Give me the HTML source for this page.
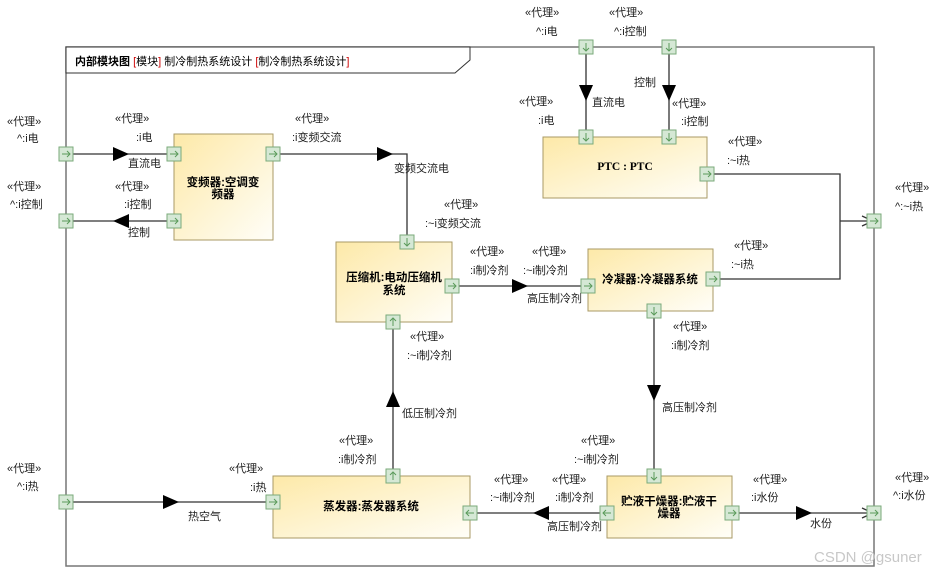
<!DOCTYPE html>
<html><head><meta charset="utf-8"><style>
html,body{margin:0;padding:0;background:#fff;}
svg{display:block;}
text{font-family:"Liberation Sans","Noto Sans CJK SC",sans-serif;font-size:11px;fill:#222;}
.b{font-weight:bold;font-size:11.5px;fill:#000;}
.s{fill:#333;}
</style></head><body>
<svg width="937" height="573" viewBox="0 0 937 573" xmlns="http://www.w3.org/2000/svg">
<defs>
<linearGradient id="g" x1="0" y1="0" x2="1" y2="1">
<stop offset="0" stop-color="#fde9a8"/><stop offset="1" stop-color="#fffef8"/></linearGradient>
<g id="pr"><rect x="-7" y="-7" width="14" height="14" fill="#d5e8d5" stroke="#7aaa7a"/><path d="M-4 0H4M1-3L4 0L1 3" fill="none" stroke="#5a9a5a"/></g>
<g id="pl"><rect x="-7" y="-7" width="14" height="14" fill="#d5e8d5" stroke="#7aaa7a"/><path d="M4 0H-4M-1-3L-4 0L-1 3" fill="none" stroke="#5a9a5a"/></g>
<g id="pd"><rect x="-7" y="-7" width="14" height="14" fill="#d5e8d5" stroke="#7aaa7a"/><path d="M0-4V4M-3 1L0 4L3 1" fill="none" stroke="#5a9a5a"/></g>
<g id="pu"><rect x="-7" y="-7" width="14" height="14" fill="#d5e8d5" stroke="#7aaa7a"/><path d="M0 4V-4M-3-1L0-4L3-1" fill="none" stroke="#5a9a5a"/></g>
</defs>
<rect x="66" y="47" width="808" height="519" fill="none" stroke="#777" stroke-width="1.5"/>
<path d="M66 47H470V60L455 73H66Z" fill="#fff" stroke="#333"/>
<text x="75" y="65" class="b" style="font-size:11px">内部模块图 <tspan style="font-weight:normal;fill:#c00">[</tspan><tspan style="font-weight:normal">模块</tspan><tspan style="font-weight:normal;fill:#c00">]</tspan><tspan style="font-weight:normal"> 制冷制热系统设计 </tspan><tspan style="font-weight:normal;fill:#c00">[</tspan><tspan style="font-weight:normal">制冷制热系统设计</tspan><tspan style="font-weight:normal;fill:#c00">]</tspan></text>

<rect x="174" y="134" width="99" height="106" fill="url(#g)" stroke="#a99a66"/>
<text x="223" y="186" class="b" text-anchor="middle">变频器:空调变</text><text x="223" y="198" class="b" text-anchor="middle">频器</text>
<rect x="336" y="242" width="116" height="80" fill="url(#g)" stroke="#a99a66"/>
<text x="394" y="281" class="b" text-anchor="middle">压缩机:电动压缩机</text><text x="394" y="294" class="b" text-anchor="middle">系统</text>
<rect x="543" y="137" width="164" height="61" fill="url(#g)" stroke="#a99a66"/>
<text x="625" y="170" class="b" text-anchor="middle" style="font-family:'Liberation Serif',serif">PTC : PTC</text>
<rect x="588" y="249" width="125" height="62" fill="url(#g)" stroke="#a99a66"/>
<text x="650" y="283" class="b" text-anchor="middle">冷凝器:冷凝器系统</text>
<rect x="273" y="476" width="197" height="62" fill="url(#g)" stroke="#a99a66"/>
<text x="371" y="510" class="b" text-anchor="middle">蒸发器:蒸发器系统</text>
<rect x="607" y="476" width="125" height="62" fill="url(#g)" stroke="#a99a66"/>
<text x="669" y="505" class="b" text-anchor="middle">贮液干燥器:贮液干</text><text x="669" y="517" class="b" text-anchor="middle">燥器</text>

<g stroke="#333" stroke-width="1.3" fill="none">
<path d="M66 154H174"/><path d="M66 221H174"/>
<path d="M273 154H407V242"/>
<path d="M452 286H588"/>
<path d="M707 174H840V279H713"/><path d="M840 221H874"/>
<path d="M586 47V137"/><path d="M669 47V137"/>
<path d="M654 311V476"/>
<path d="M607 513H470"/>
<path d="M393 476V322"/>
<path d="M66 502H273"/>
<path d="M732 513H874"/>
<path d="M862 216L873 221L862 226"/><path d="M862 508L873 513L862 518"/>
</g>
<g fill="#000">
<path d="M113 147L129 154L113 161Z"/>
<path d="M129 214L113 221L129 228Z"/>
<path d="M377 147L393 154L377 161Z"/>
<path d="M512 279L528 286L512 293Z"/>
<path d="M579 85L586 101L593 85Z"/><path d="M662 85L669 101L676 85Z"/>
<path d="M647 385L654 401L661 385Z"/>
<path d="M549 506L533 513L549 520Z"/>
<path d="M386 407L393 391L400 407Z"/>
<path d="M163 495L179 502L163 509Z"/>
<path d="M796 506L812 513L796 520Z"/>
</g>

<use href="#pr" x="66" y="154"/><use href="#pr" x="66" y="221"/><use href="#pr" x="66" y="502"/>
<use href="#pr" x="874" y="221"/><use href="#pr" x="874" y="513"/>
<use href="#pd" x="586" y="47"/><use href="#pd" x="669" y="47"/>
<use href="#pr" x="174" y="154"/><use href="#pr" x="174" y="221"/><use href="#pr" x="273" y="154"/>
<use href="#pd" x="407" y="242"/><use href="#pr" x="452" y="286"/><use href="#pu" x="393" y="322"/>
<use href="#pd" x="586" y="137"/><use href="#pd" x="669" y="137"/><use href="#pr" x="707" y="174"/>
<use href="#pr" x="588" y="286"/><use href="#pr" x="713" y="279"/><use href="#pd" x="654" y="311"/>
<use href="#pr" x="273" y="502"/><use href="#pu" x="393" y="476"/><use href="#pl" x="470" y="513"/>
<use href="#pd" x="654" y="476"/><use href="#pl" x="607" y="513"/><use href="#pr" x="732" y="513"/>

<g class="s">
<text x="7" y="125">«代理»</text><text x="17" y="142">^:i电</text>
<text x="7" y="190">«代理»</text><text x="10" y="208">^:i控制</text>
<text x="7" y="472">«代理»</text><text x="17" y="490">^:i热</text>
<text x="115" y="122">«代理»</text><text x="136" y="141">:i电</text>
<text x="115" y="190">«代理»</text><text x="124" y="208">:i控制</text>
<text x="128" y="167">直流电</text><text x="128" y="236">控制</text>
<text x="295" y="122">«代理»</text><text x="292" y="141">:i变频交流</text>
<text x="394" y="172">变频交流电</text>
<text x="444" y="208">«代理»</text><text x="425" y="227">:~i变频交流</text>
<text x="470" y="255">«代理»</text><text x="470" y="274">:i制冷剂</text>
<text x="532" y="255">«代理»</text><text x="523" y="274">:~i制冷剂</text>
<text x="527" y="302">高压制冷剂</text>
<text x="525" y="16">«代理»</text><text x="536" y="35">^:i电</text>
<text x="609" y="16">«代理»</text><text x="614" y="35">^:i控制</text>
<text x="634" y="86">控制</text><text x="592" y="106">直流电</text>
<text x="519" y="105">«代理»</text><text x="538" y="124">:i电</text>
<text x="672" y="107">«代理»</text><text x="681" y="125">:i控制</text>
<text x="728" y="145">«代理»</text><text x="727" y="164">:~i热</text>
<text x="734" y="249">«代理»</text><text x="731" y="268">:~i热</text>
<text x="895" y="191">«代理»</text><text x="895" y="210">^:~i热</text>
<text x="673" y="330">«代理»</text><text x="671" y="349">:i制冷剂</text>
<text x="662" y="411">高压制冷剂</text>
<text x="410" y="340">«代理»</text><text x="407" y="359">:~i制冷剂</text>
<text x="402" y="417">低压制冷剂</text>
<text x="339" y="444">«代理»</text><text x="338" y="463">:i制冷剂</text>
<text x="229" y="472">«代理»</text><text x="250" y="491">:i热</text>
<text x="188" y="520">热空气</text>
<text x="581" y="444">«代理»</text><text x="574" y="463">:~i制冷剂</text>
<text x="494" y="483">«代理»</text><text x="490" y="501">:~i制冷剂</text>
<text x="552" y="483">«代理»</text><text x="555" y="501">:i制冷剂</text>
<text x="547" y="530">高压制冷剂</text>
<text x="753" y="483">«代理»</text><text x="751" y="501">:i水份</text>
<text x="810" y="527">水份</text>
<text x="895" y="481">«代理»</text><text x="893" y="499">^:i水份</text>
</g>
<text x="814" y="562" style="font-size:15px;fill:#c8c8c8">CSDN @gsuner</text>
</svg>
</body></html>
